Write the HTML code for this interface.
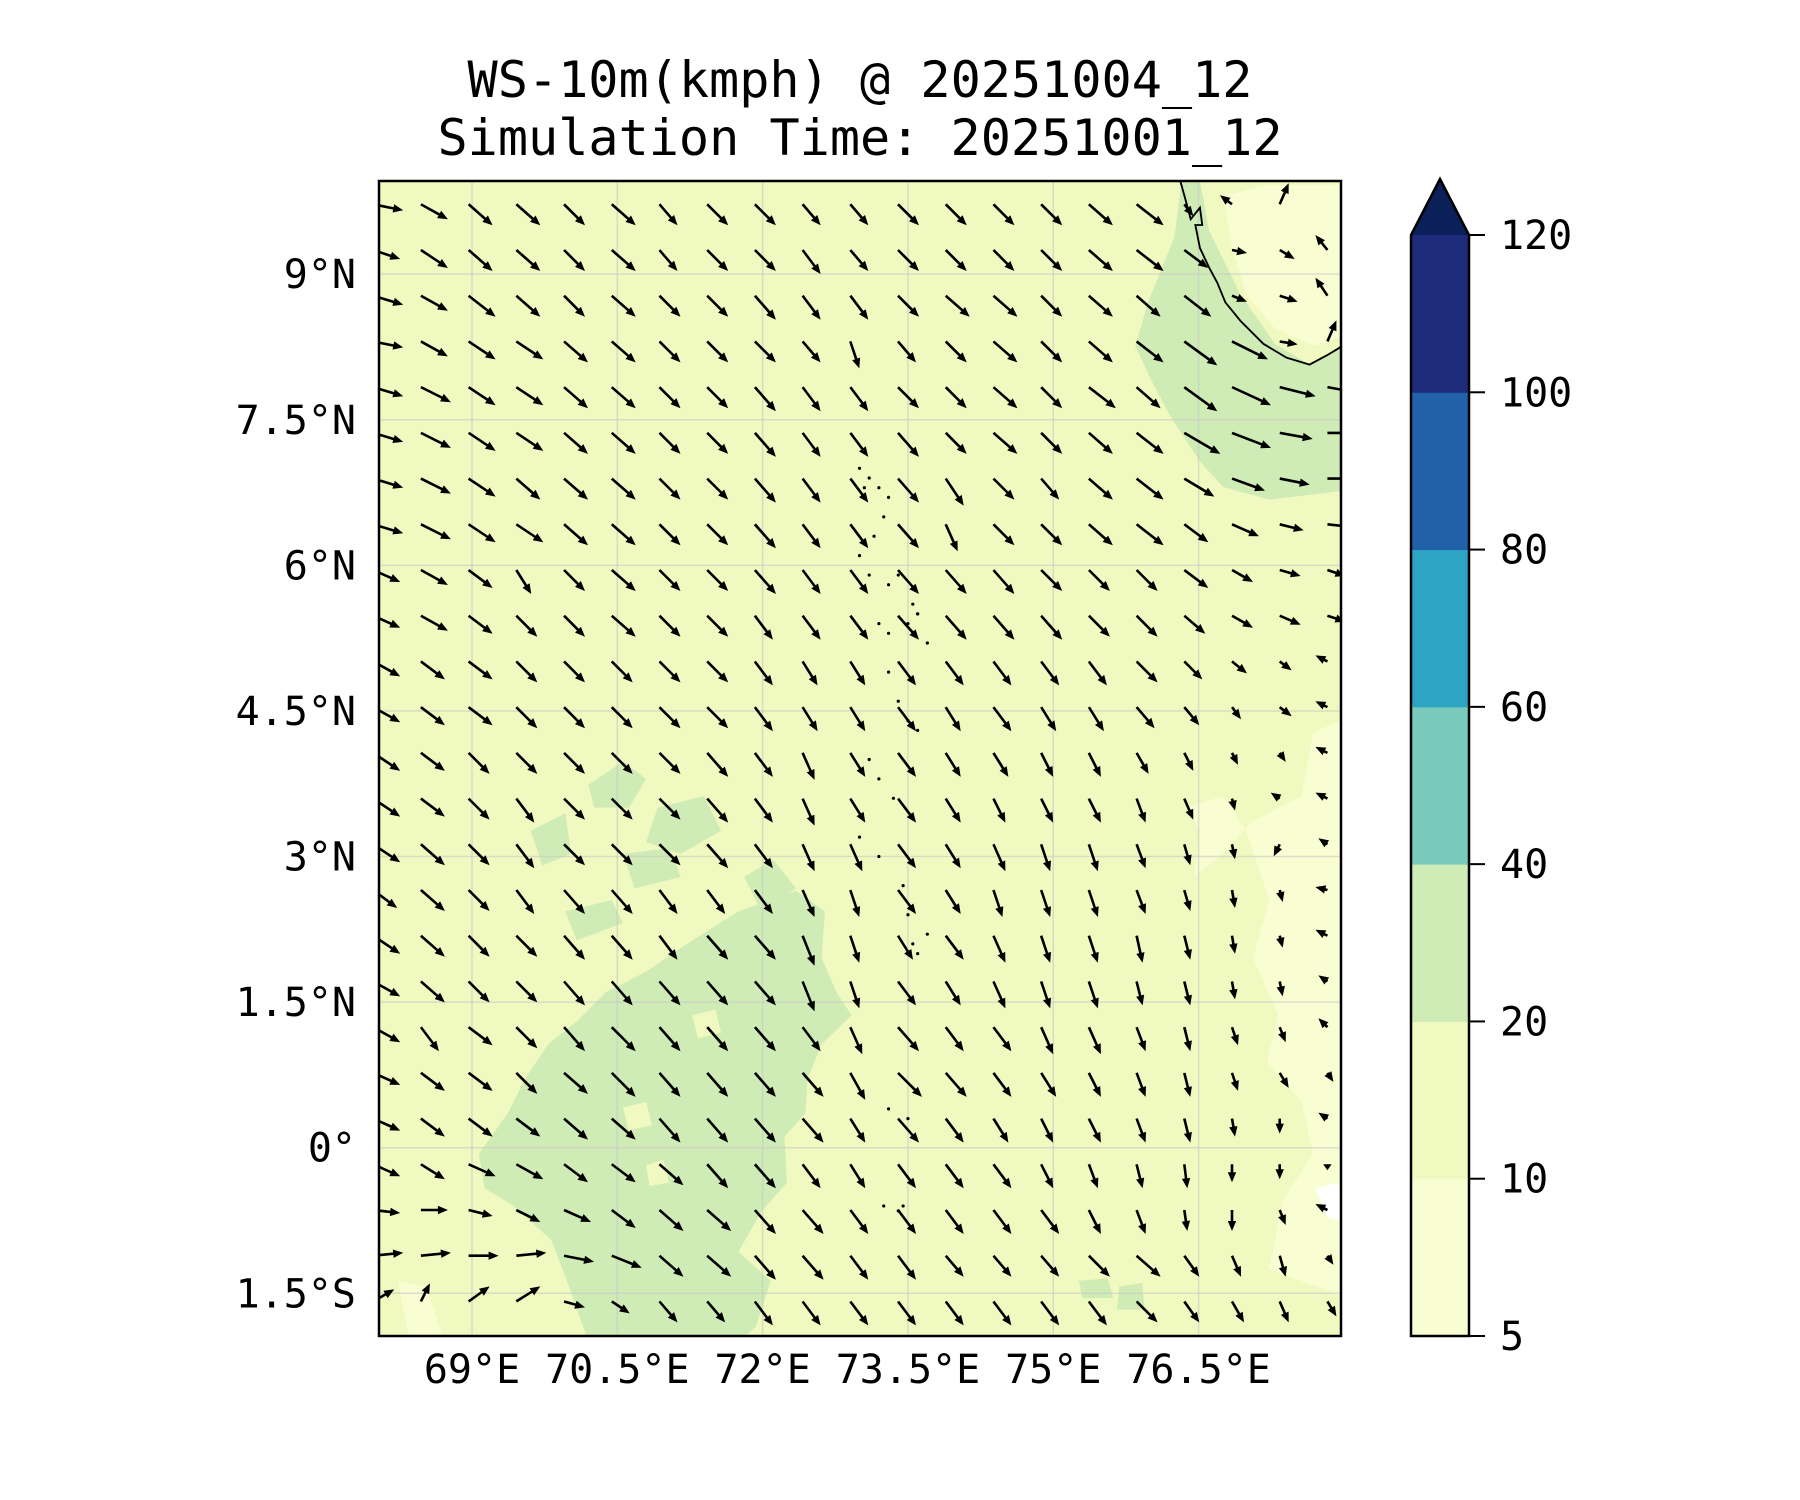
<!DOCTYPE html>
<html><head><meta charset="utf-8"><style>
html,body{margin:0;padding:0;background:#fff}
svg{display:block}
text{font-family:"DejaVu Sans Mono","Liberation Mono",monospace;fill:#000}
</style></head><body>
<svg id="fig" width="1800" height="1500" viewBox="0 0 1800 1500" xmlns="http://www.w3.org/2000/svg">
<rect width="1800" height="1500" fill="#fff"/>
<text x="860" y="97" font-size="50" text-anchor="middle" textLength="785" lengthAdjust="spacingAndGlyphs">WS-10m(kmph) @ 20251004_12</text>
<text x="860" y="155" font-size="50" text-anchor="middle" textLength="845" lengthAdjust="spacingAndGlyphs">Simulation Time: 20251001_12</text>
<defs><clipPath id="pc"><rect x="379" y="181" width="962" height="1155"/></clipPath></defs>
<g id="plot" clip-path="url(#pc)">
  <rect x="379" y="181" width="962" height="1155" fill="#f0f9bf"/>
  <g transform="scale(1.1538)">
    <path fill="#d0ecb6" d="M1024,157 L1040,157 L1048,200 L1075,255 L1105,298 L1135,316 L1168,296 L1168,425 L1100,433 L1060,422 L1040,400 L1015,362 L998,330 L984,300 L995,262 L1018,205 Z"/>
    <path fill="#d0ecb6" d="M415,1000 L440,965 L455,935 L475,905 L500,885 L525,860 L560,842 L600,815 L640,790 L690,772 L715,790 L712,830 L725,860 L738,880 L712,905 L700,935 L698,965 L680,985 L682,1025 L660,1050 L640,1085 L668,1110 L655,1150 L640,1163 L510,1163 L495,1120 L478,1075 L445,1045 L420,1030 Z"/>
    <path fill="#f0f9bf" d="M540,960 L560,955 L565,975 L545,980 Z"/>
    <path fill="#f0f9bf" d="M600,880 L620,875 L625,895 L605,900 Z"/>
    <path fill="#f0f9bf" d="M560,1010 L575,1005 L580,1025 L563,1028 Z"/>
    <path fill="#d0ecb6" d="M510,680 L540,660 L560,675 L545,700 L515,700 Z"/>
    <path fill="#d0ecb6" d="M570,700 L610,690 L625,720 L590,740 L560,730 Z"/>
    <path fill="#d0ecb6" d="M460,720 L490,705 L495,740 L470,750 Z"/>
    <path fill="#d0ecb6" d="M540,740 L580,735 L590,760 L550,770 Z"/>
    <path fill="#d0ecb6" d="M490,790 L530,780 L540,800 L500,815 Z"/>
    <path fill="#d0ecb6" d="M645,760 L670,745 L690,770 L660,790 Z"/>
    <path fill="#d0ecb6" d="M935,1110 L960,1108 L965,1125 L938,1125 Z"/>
    <path fill="#d0ecb6" d="M970,1115 L990,1112 L992,1135 L968,1135 Z"/>
    <path fill="#f9fdd2" d="M1168,622 L1138,635 L1128,690 L1085,712 L1060,740 L1035,760 L1040,720 L1028,700 L1060,690 L1080,720 L1100,780 L1086,830 L1108,880 L1098,920 L1128,955 L1138,1000 L1112,1040 L1100,1100 L1168,1125 Z"/>
    <path fill="#f9fdd2" d="M1060,170 L1100,160 L1168,160 L1168,290 L1140,300 L1105,285 L1080,255 L1068,215 Z"/>
    <path fill="#ffffff" d="M1140,1030 L1160,1025 L1168,1060 L1150,1055 Z"/>
    <path fill="#f9fdd2" d="M345,1110 L370,1115 L385,1163 L355,1163 Z"/>
  </g>
  <g id="grid"></g>
  <g transform="scale(1.1538)" fill="none" stroke="#000" stroke-width="1.6">
    <path d="M1023,157 L1028,175 L1032,190 L1040,180 L1042,195 L1036,195 L1040,215 L1048,232 L1055,245 L1062,262 L1075,278 L1095,298 L1115,310 L1135,316 L1150,308 L1160,302 L1168,296"/>
  </g>
  <g id="islands" fill="#000"></g>
  <g id="quiver"></g>
</g>
<rect x="379" y="181" width="962" height="1155" fill="none" stroke="#000" stroke-width="2.5"/>
<g id="axes"></g>
<g id="cbar"></g>
</svg>
<script>
const NS='http://www.w3.org/2000/svg';
// Map extent
const lonMin=68.04, lonMax=77.97, latMin=-1.94, latMax=9.96;
const xTicks=[69,70.5,72,73.5,75,76.5];
const xTickLabels=['69°E','70.5°E','72°E','73.5°E','75°E','76.5°E'];
const yTicks=[9,7.5,6,4.5,3,1.5,0,-1.5];
const yTickLabels=['9°N','7.5°N','6°N','4.5°N','3°N','1.5°N','0°','1.5°S'];
const cbLevels=[5,10,20,40,60,80,100,120];
const cbColors=['#f9fdd2','#f0f9bf','#d0ecb6','#79cabb','#2ea4c4','#2161a8','#1e2a7c'];
const cbExtendColor='#0b1f58';
// quiver grid
const qLon0=67.98, qDLon=0.4925, qLat0=9.72, qDLat=0.471;
// wind components (kmph), rows north->south, cols west->east; V positive = northward
const U=[
[10,9,8,8,7,8,6,7,7,6,6,7,7,7,7,8,9,3,-4,3,0],
[9,9,8,8,7,8,6,7,7,6,6,7,7,7,7,8,9,8,5,5,-4],
[10,9,9,8,7,8,7,7,7,6,6,7,8,8,7,8,8,9,5,6,-4],
[10,9,9,9,8,8,7,7,7,6,3,6,7,8,7,8,9,11,12,6,3],
[10,10,9,9,8,8,7,7,7,6,6,7,7,8,7,9,8,11,13,12,11],
[10,10,9,9,8,8,7,7,7,6,6,7,7,8,7,8,9,12,13,11,12],
[10,10,9,8,8,8,7,7,7,6,6,7,6,7,6,8,9,10,11,10,11],
[10,10,9,9,8,8,7,7,7,6,6,7,4,7,7,8,9,8,9,8,9],
[9,9,8,5,7,8,7,7,7,6,6,7,7,7,7,7,7,8,7,7,6],
[9,9,8,7,7,8,7,7,6,6,6,7,7,7,7,7,7,7,7,7,6],
[9,8,8,7,7,7,7,7,6,5,5,6,6,6,6,6,7,6,5,4,-4],
[9,8,8,7,7,7,7,7,6,5,5,6,5,6,5,5,6,5,3,4,-4],
[9,8,7,7,7,7,7,7,6,4,5,6,5,5,4,4,4,3,2,2,-4],
[9,8,7,6,7,7,7,7,6,4,5,6,5,4,4,4,3,3,1,-3,-4],
[9,8,7,6,7,7,7,7,6,4,4,6,5,4,3,3,3,2,1,-2,-3],
[8,8,7,6,7,7,6,6,6,4,3,6,5,3,3,3,3,2,1,1,-4],
[9,8,7,7,7,7,6,7,7,4,3,5,6,4,3,3,2,2,1,1,-4],
[9,8,7,7,7,7,7,7,7,4,3,6,5,4,3,3,2,2,1,1,-3],
[9,6,8,7,7,8,7,7,7,6,4,7,6,6,4,4,3,2,2,2,-3],
[9,8,8,7,8,8,7,7,7,7,5,8,7,6,5,4,3,2,2,3,2],
[9,8,8,8,8,8,7,7,7,7,5,7,6,5,4,4,3,2,1,0,-3],
[9,8,9,9,8,8,8,7,7,6,5,6,6,6,4,3,2,1,0,0,0],
[9,9,8,8,9,8,8,8,7,7,6,6,6,6,6,4,3,1,0,2,-4],
[10,10,10,10,10,10,8,8,7,7,6,6,6,6,6,7,8,5,3,2,2],
[7,3,7,8,7,6,6,6,6,6,6,6,6,6,6,6,7,5,4,3,3]
];
const V=[
[-2,-5,-7,-7,-7,-7,-7,-7,-7,-7,-7,-7,-7,-7,-7,-7,-7,-4,3,7,0],
[-3,-6,-7,-7,-7,-7,-7,-7,-7,-8,-7,-7,-7,-7,-7,-7,-7,-6,-1,-3,5],
[-3,-5,-7,-7,-7,-7,-7,-7,-8,-8,-8,-7,-7,-7,-7,-7,-7,-7,-2,-2,6],
[-2,-5,-6,-6,-7,-7,-7,-7,-7,-7,-9,-7,-7,-7,-7,-7,-7,-8,-6,-1,7],
[-3,-5,-6,-6,-7,-7,-7,-7,-8,-8,-8,-7,-7,-7,-7,-7,-7,-8,-6,-3,-2],
[-3,-5,-6,-6,-7,-7,-7,-7,-8,-8,-8,-8,-7,-7,-7,-7,-7,-7,-5,-2,0],
[-3,-5,-6,-7,-7,-7,-7,-7,-8,-8,-8,-8,-9,-7,-7,-7,-7,-6,-4,-2,0],
[-3,-5,-6,-6,-7,-7,-7,-7,-8,-8,-8,-8,-9,-7,-7,-7,-7,-6,-4,-2,-1],
[-4,-5,-6,-8,-7,-7,-7,-7,-8,-8,-8,-8,-8,-8,-7,-7,-7,-6,-4,-2,-2],
[-4,-5,-6,-7,-7,-7,-7,-7,-8,-8,-8,-8,-8,-8,-8,-7,-7,-6,-4,-3,-2],
[-5,-6,-6,-7,-7,-7,-7,-7,-8,-8,-8,-8,-8,-8,-8,-8,-7,-6,-4,-3,2],
[-5,-6,-6,-7,-7,-7,-7,-7,-8,-8,-8,-8,-8,-8,-8,-8,-7,-6,-4,-3,2],
[-6,-6,-7,-7,-7,-7,-7,-8,-8,-9,-8,-8,-8,-8,-8,-8,-7,-6,-4,-3,2],
[-6,-6,-7,-8,-7,-7,-7,-8,-8,-9,-8,-8,-8,-8,-8,-8,-8,-7,-4,2,2],
[-6,-7,-7,-8,-7,-7,-7,-8,-8,-9,-9,-8,-8,-9,-9,-9,-8,-7,-5,-4,2],
[-6,-7,-7,-8,-8,-8,-8,-8,-8,-9,-9,-8,-8,-9,-9,-9,-8,-7,-6,-4,1],
[-6,-7,-7,-7,-8,-8,-8,-8,-8,-10,-9,-8,-8,-9,-9,-9,-9,-8,-6,-4,2],
[-5,-7,-7,-7,-8,-8,-8,-8,-8,-10,-9,-8,-8,-9,-9,-9,-8,-8,-6,-5,2],
[-5,-8,-6,-7,-8,-8,-8,-8,-8,-8,-9,-8,-8,-8,-9,-9,-8,-8,-6,-5,3],
[-4,-6,-6,-7,-7,-8,-8,-8,-8,-8,-9,-8,-8,-8,-8,-8,-8,-8,-6,-5,-3],
[-4,-6,-6,-6,-7,-7,-8,-8,-8,-8,-8,-8,-8,-8,-8,-8,-8,-8,-6,-5,2],
[-4,-5,-4,-5,-6,-6,-7,-8,-8,-8,-8,-8,-8,-8,-8,-8,-8,-8,-6,-5,-2],
[-1,0,-2,-4,-4,-6,-7,-7,-8,-8,-8,-8,-8,-8,-8,-8,-8,-7,-7,-5,2],
[1,1,0,1,-2,-4,-7,-7,-8,-8,-8,-8,-7,-7,-7,-7,-7,-7,-7,-7,-3],
[4,6,5,5,-2,-4,-7,-7,-8,-8,-8,-8,-8,-8,-8,-8,-7,-7,-7,-7,-5]
];
const islandLon=[73.0,73.05,73.1,73.2,73.3,73.25,73.15,73.0,73.1,73.3,73.4,73.55,73.6,73.2,73.3,73.5,73.6,73.7,73.3,73.4,73.5,73.6,73.1,73.2,73.35,73.0,73.2,73.45,73.5,73.55,73.6,73.7,73.3,73.5,73.25,73.4,73.45];
const islandLat=[7.0,6.8,6.9,6.8,6.7,6.5,6.3,6.1,5.9,5.8,5.9,5.6,5.5,5.4,5.3,5.4,5.5,5.2,4.9,4.6,4.4,4.3,4.0,3.8,3.6,3.2,3.0,2.7,2.4,2.1,2.0,2.2,0.4,0.3,-0.6,-0.65,-0.6];

const X0=379,X1=1341,Y0=181,Y1=1336;
function X(lon){return X0+(lon-lonMin)/(lonMax-lonMin)*(X1-X0);}
function Y(lat){return Y0+(latMax-lat)/(latMax-latMin)*(Y1-Y0);}
function mk(tag,attrs,parent){const e=document.createElementNS(NS,tag);for(const k in attrs)e.setAttribute(k,attrs[k]);parent.appendChild(e);return e;}

// grid
const grid=document.getElementById('grid');
xTicks.forEach(t=>{const l=mk('line',{x1:X(t),x2:X(t),y1:Y0,y2:Y1,stroke:'#c8c8c8','stroke-width':1.5,'stroke-opacity':0.6},grid);

});
yTicks.forEach(t=>{const l=mk('line',{x1:X0,x2:X1,y1:Y(t),y2:Y(t),stroke:'#c8c8c8','stroke-width':1.5,'stroke-opacity':0.6},grid);

});

// islands
const isl=document.getElementById('islands');
islandLon.forEach((lo,i)=>{const c=mk('circle',{cx:X(lo),cy:Y(islandLat[i]),r:1.6},isl);

});

// quiver
const q=document.getElementById('quiver');
const scale=3.0;
for(let j=0;j<U.length;j++){for(let i=0;i<U[j].length;i++){
  const u=U[j][i],v=V[j][i];
  const x=X(qLon0+qDLon*i),y=Y(qLat0-qDLat*j);
  const dx=u*scale,dy=-v*scale;const L=Math.hypot(dx,dy);if(L<0.5)continue;
  const ux=dx/L,uy=dy/L,px=-uy,py=ux;
  const w=1.3,hw=4.2;let hl=10;if(hl>L)hl=L;
  const sL=L-hl;
  const pts=[[0,-w],[sL,-w],[sL,-hw],[L,0],[sL,hw],[sL,w],[0,w]].map(p=>[x+ux*p[0]+px*p[1],y+uy*p[0]+py*p[1]].map(n=>n.toFixed(1)).join(','));
  const a=mk('polygon',{points:pts.join(' '),fill:'#000'},q);
  
  
}}

// axes labels
const ax=document.getElementById('axes');
xTicks.forEach((t,k)=>{const tx=mk('text',{x:X(t),y:1383,'font-size':40,'text-anchor':'middle'},ax);tx.textContent=xTickLabels[k];

});
yTicks.forEach((t,k)=>{const tx=mk('text',{x:356,y:Y(t)+14,'font-size':40,'text-anchor':'end'},ax);tx.textContent=yTickLabels[k];

});

// colorbar
const cb=document.getElementById('cbar');
const cX0=1411,cX1=1469,cTop=235,cBot=1336,cTip=179;
function CY(k){return cBot-(k/(cbLevels.length-1))*(cBot-cTop);}
cbColors.forEach((c,k)=>{const r=mk('rect',{x:cX0,y:CY(k+1),width:cX1-cX0,height:CY(k)-CY(k+1)+0.5,fill:c},cb);

});
const ext=mk('polygon',{points:`${cX0},${cTop} ${(cX0+cX1)/2},${cTip} ${cX1},${cTop}`,fill:cbExtendColor},cb);


const out=mk('path',{d:`M${cX0},${cBot} L${cX0},${cTop} L${(cX0+cX1)/2},${cTip} L${cX1},${cTop} L${cX1},${cBot} Z`,fill:'none',stroke:'#000','stroke-width':2.5},cb);


cbLevels.forEach((lv,k)=>{const y=CY(k);
  const t=mk('line',{x1:cX1,x2:cX1+16,y1:y,y2:y,stroke:'#000','stroke-width':2},cb);
  
  
  const tx=mk('text',{x:1500,y:y+14,'font-size':40},cb);tx.textContent=String(lv);
  
  
});
</script>
</body></html>
